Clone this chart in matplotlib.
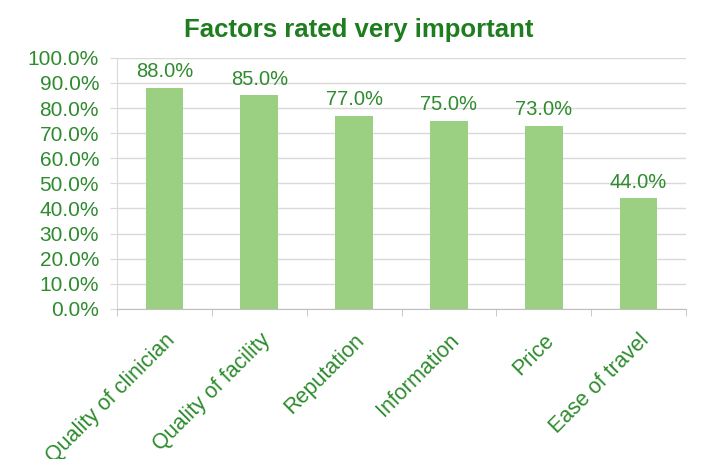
import matplotlib.pyplot as plt
import numpy as np
from matplotlib.ticker import FuncFormatter, MultipleLocator

categories = ["Quality of clinician", "Quality of facility", "Reputation",
              "Information", "Price", "Ease of travel"]
values = [88.0, 85.0, 77.0, 75.0, 73.0, 44.0]

green_txt = "#2e8b2e"
bar_col = "#9bcf82"

plt.rcParams['font.family'] = ['Liberation Sans', 'DejaVu Sans']

fig = plt.figure(figsize=(7.1, 4.59), dpi=100)
ax = fig.add_axes([0.165, 0.327, 0.801, 0.547])

x = np.arange(len(categories))
ax.bar(x, values, width=0.4, color=bar_col, zorder=3)
for xi, v in zip(x, values):
    ax.text(xi, v + 2.6, f"{v:.1f}%", ha="center", va="bottom",
            fontsize=14.5, color=green_txt, zorder=4)

ax.set_xlim(-0.5, len(categories) - 0.5)
ax.set_ylim(0, 100)
ax.yaxis.set_major_locator(MultipleLocator(10))
ax.yaxis.set_major_formatter(FuncFormatter(lambda v, p: f"{v:.1f}%"))
ax.grid(axis="y", color="#d9d9d9", linewidth=1, zorder=0)

ax.set_xticks(x)
ax.set_xticklabels(categories, rotation=45, ha="right", rotation_mode="anchor",
                   fontsize=15.5, color=green_txt)
ax.set_xticks(np.arange(-0.5, len(categories)), minor=True)
ax.tick_params(axis="x", which="major", length=0, pad=15)
ax.tick_params(axis="x", which="minor", length=5, color="#bfbfbf")
ax.tick_params(axis="y", length=5, color="#d9d9d9", pad=8,
               labelsize=15, labelcolor=green_txt)

for s in ["top", "right"]:
    ax.spines[s].set_visible(False)
ax.spines["left"].set_color("#d9d9d9")
ax.spines["bottom"].set_color("#bfbfbf")

fig.text(0.505, 0.935, "Factors rated very important", ha="center", va="center",
         fontsize=18.5, fontweight="bold", color="#1e7d1e")

fig.savefig("out.png", dpi=100)
